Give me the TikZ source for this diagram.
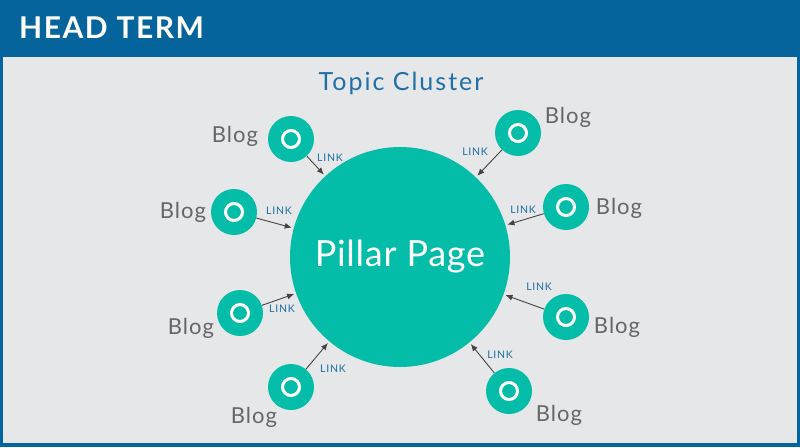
\documentclass[tikz,border=0pt]{standalone}
\usepackage{fontspec}
\setmainfont{Lato}
\usetikzlibrary{arrows.meta}
\definecolor{frameblue}{HTML}{05649B}
\definecolor{panelgray}{HTML}{E6E7E8}
\definecolor{teal}{HTML}{03BDA8}
\definecolor{bloggray}{HTML}{666666}
\definecolor{linkblue}{HTML}{1F6FA8}
\definecolor{arrowgray}{HTML}{444444}
\begin{document}
\begin{tikzpicture}[x=1pt,y=-1pt,
  blogdot/.style={circle,fill=teal,minimum size=46pt,inner sep=0pt,
    path picture={\draw[white,line width=3pt] (path picture bounding box.center) circle (8.5pt);}},
  blogtext/.style={text=bloggray,font=\fontsize{22}{24}\selectfont\addfontfeature{LetterSpace=4.5},inner sep=0pt},
  linktext/.style={text=linkblue,font=\fontsize{10.5}{12}\selectfont\addfontfeature{LetterSpace=7},inner sep=0pt},
  linkarrow/.style={draw=arrowgray,line width=0.9pt,-{Latex[length=7pt,width=6pt]},shorten >=2pt}]
\useasboundingbox (0,0) rectangle (800,447);
\fill[frameblue] (0,0) rectangle (800,447);
\fill[panelgray] (3,57) rectangle (797,443);
\node[anchor=west,text=white,font=\bfseries\fontsize{30}{32}\selectfont\addfontfeature{LetterSpace=5},inner sep=0pt] (head) at (19,28) {HEAD TERM};
\node[text=linkblue,font=\fontsize{25}{28}\selectfont\addfontfeature{LetterSpace=8},inner sep=0pt] (topic) at (401,83) {Topic Cluster};
\node[circle,fill=teal,minimum size=220pt,inner sep=0pt,text=white,font=\fontsize{36}{40}\selectfont\addfontfeature{LetterSpace=2}] (p) at (400,257) {Pillar Page};
% blog circles
\node[blogdot] (b1) at (291,139) {};
\node[blogdot] (b2) at (518,133) {};
\node[blogdot] (b3) at (234,212) {};
\node[blogdot] (b4) at (566,207) {};
\node[blogdot] (b5) at (240,313) {};
\node[blogdot] (b6) at (566,317) {};
\node[blogdot] (b7) at (291,387) {};
\node[blogdot] (b8) at (509,391) {};
% blog texts
\node[blogtext] (t1) at (235,136) {Blog};
\node[blogtext] (t2) at (568,117) {Blog};
\node[blogtext] (t3) at (183,212) {Blog};
\node[blogtext] (t4) at (619,208) {Blog};
\node[blogtext] (t5) at (191,328) {Blog};
\node[blogtext] (t6) at (617,327) {Blog};
\node[blogtext] (t7) at (254,417) {Blog};
\node[blogtext] (t8) at (559,415) {Blog};
% arrows
\foreach \i in {1,...,8} {\draw[linkarrow] (b\i) -- (p);}
% link labels
\node[linktext] (l1) at (330,158) {LINK};
\node[linktext] (l2) at (475,152) {LINK};
\node[linktext] (l3) at (279,211) {LINK};
\node[linktext] (l4) at (523,210) {LINK};
\node[linktext] (l5) at (282,309) {LINK};
\node[linktext] (l6) at (539,287) {LINK};
\node[linktext] (l7) at (333,369) {LINK};
\node[linktext] (l8) at (500,355) {LINK};
\end{tikzpicture}
\end{document}
